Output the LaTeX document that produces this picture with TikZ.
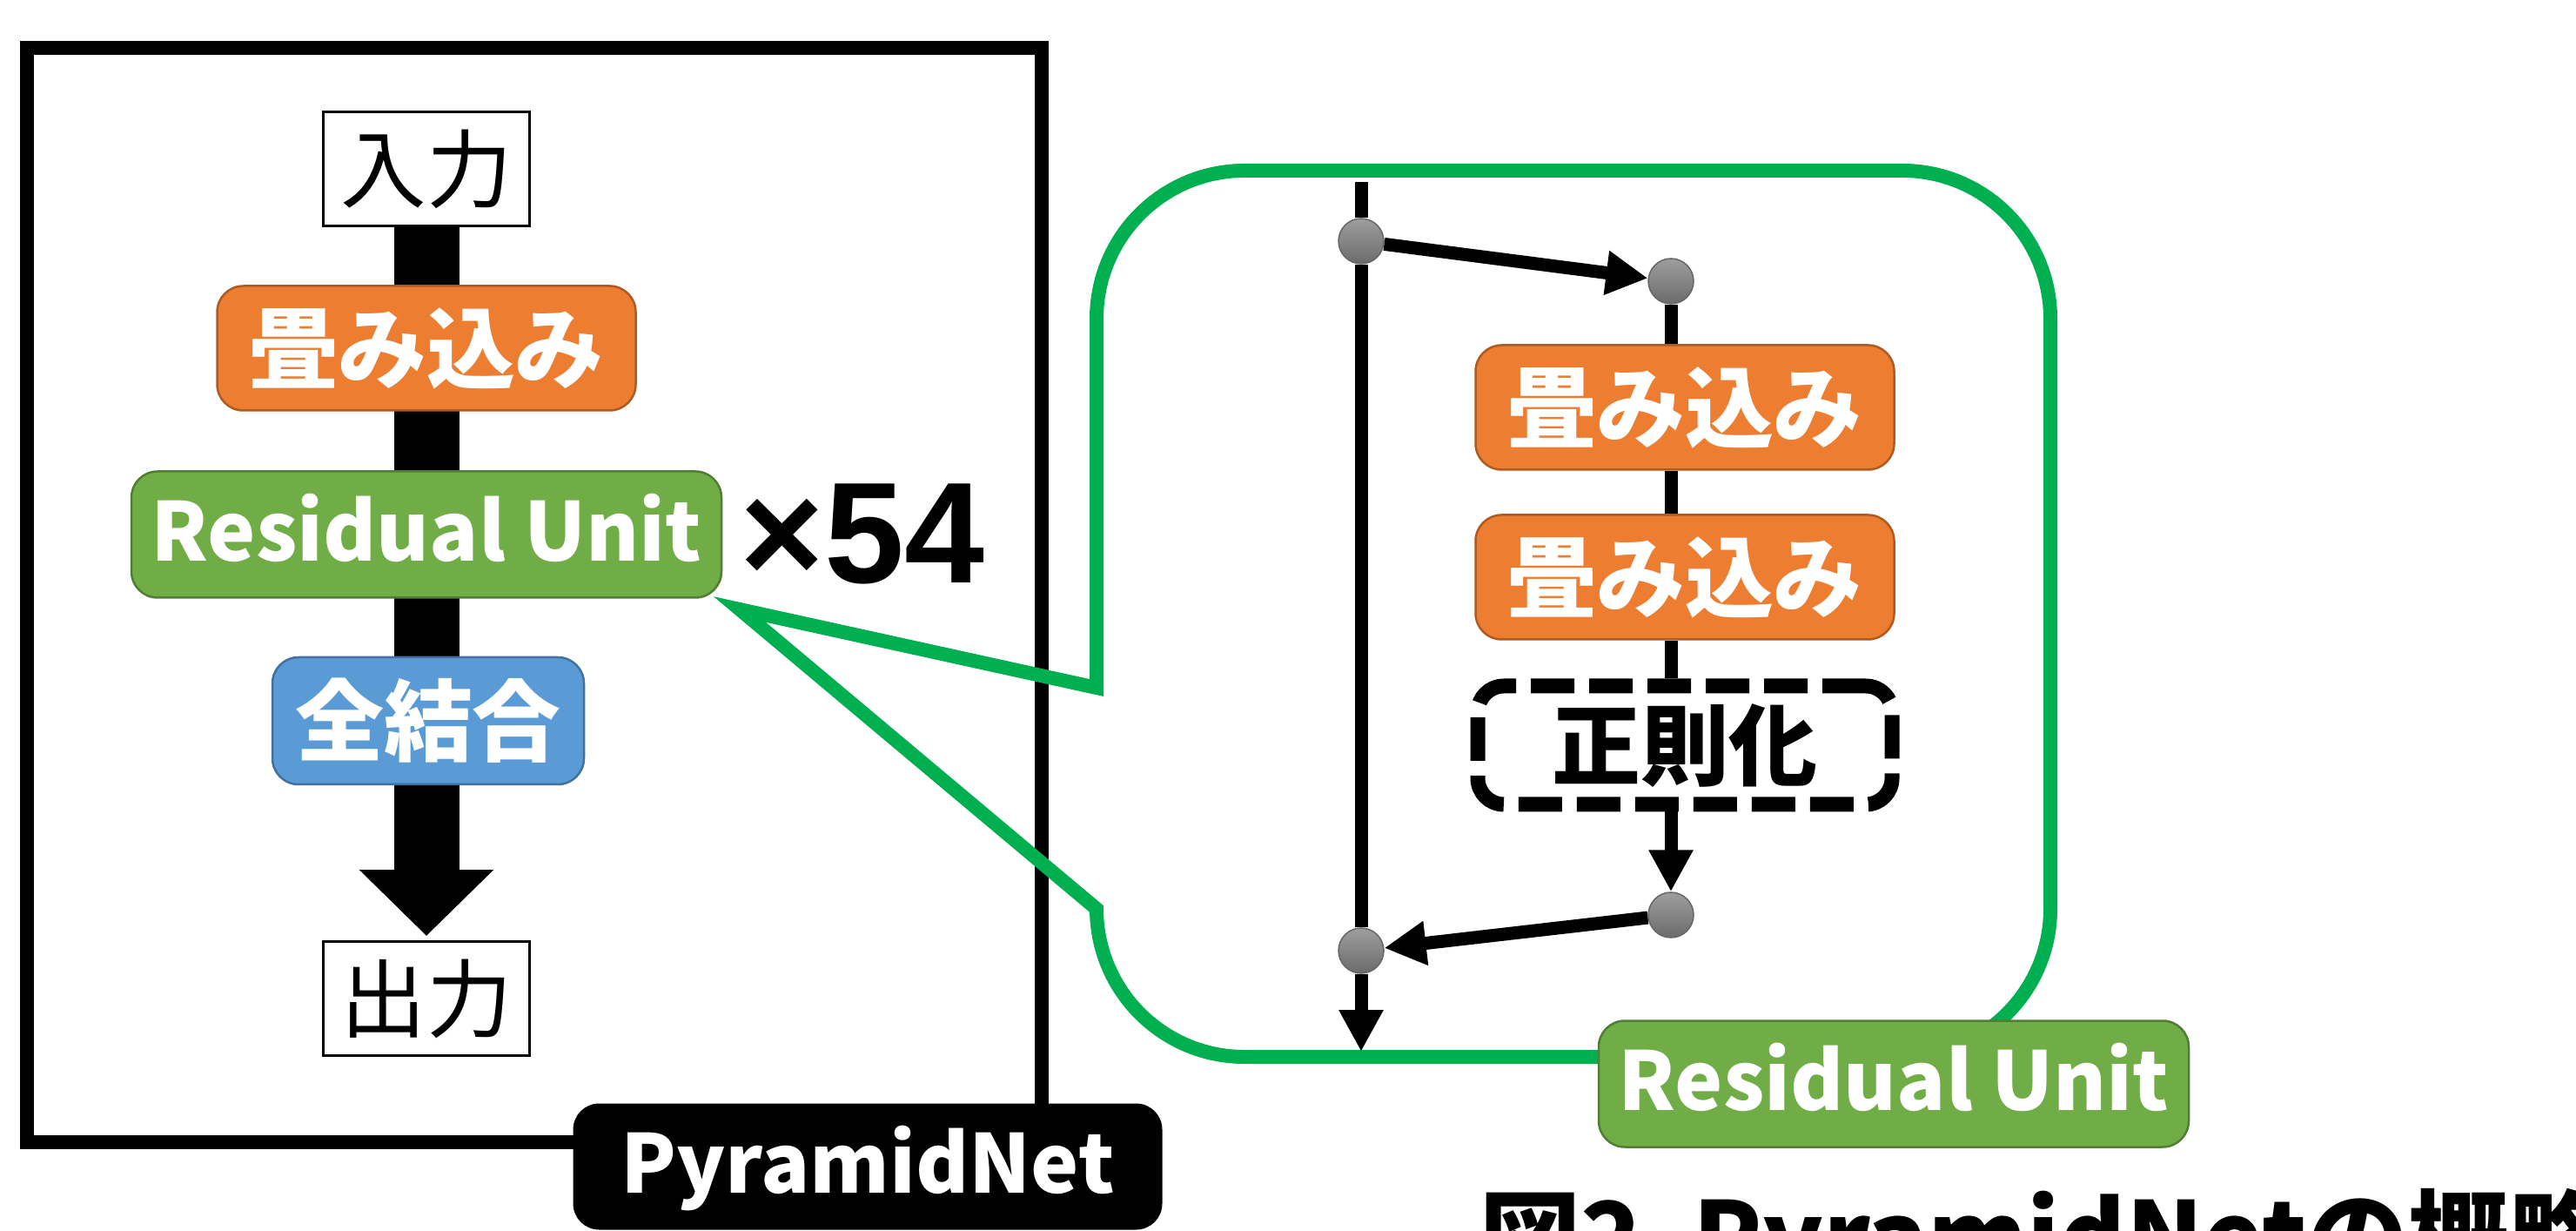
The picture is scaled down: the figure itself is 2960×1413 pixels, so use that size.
\documentclass[tikz,border=0pt]{standalone}
\usepackage{fontspec}
\usepackage{tikz}
\usetikzlibrary{arrows.meta,backgrounds}

\newfontfamily\jpfont{Noto Sans CJK JP}
\newfontfamily\numfont{Liberation Sans}

\definecolor{convorange}{HTML}{ED7D31}
\definecolor{convedge}{HTML}{AE5A21}
\definecolor{resgreen}{HTML}{70AD47}
\definecolor{resedge}{HTML}{507E32}
\definecolor{fcblue}{HTML}{5B9BD5}
\definecolor{fcedge}{HTML}{41719C}
\definecolor{callgreen}{HTML}{00B050}

\begin{document}
\begin{tikzpicture}[x=0.1mm, y=0.1mm,
    jp/.style={font=\jpfont\bfseries\fontsize{29pt}{29pt}\selectfont, text height=22.6pt, text depth=0.6pt},
    en/.style={font=\jpfont\bfseries\fontsize{26.5pt}{27pt}\selectfont, text height=17.5pt, text depth=0pt},
    unitbox/.style={rounded corners=3mm, inner sep=0pt, line width=0.25mm, text=white},
    iobox/.style={draw, fill=white, line width=0.3mm, inner sep=0pt, minimum width=23.7mm, minimum height=13.1mm,
        font=\jpfont\fontsize{28pt}{28pt}\selectfont, text height=21.8pt, text depth=0.6pt},
    convbox/.style={unitbox, jp, fill=convorange, draw=convedge, minimum width=48.1mm, minimum height=14.3mm},
    resbox/.style={unitbox, en, fill=resgreen, draw=resedge, minimum width=67.8mm, minimum height=14.5mm},
    fcbox/.style={unitbox, jp, fill=fcblue, draw=fcedge, minimum width=35.8mm, minimum height=14.6mm},
    netbox/.style={unitbox, en, fill=black, minimum width=67.7mm, minimum height=14.5mm},
    regbox/.style={jp, draw, fill=white, line width=1.7mm, dash pattern=on 5mm off 1.7mm, rounded corners=3mm,
        inner sep=0pt, minimum width=47.6mm, minimum height=13.6mm},
    joint/.style={circle, minimum size=5.2mm, inner sep=0pt, draw=black!60, line width=0.15mm,
        top color=black!38, bottom color=black!58},
    link/.style={line width=1.5mm},
    linkarrow/.style={link, -{Triangle[length=4.8mm, width=4.8mm]}}]

    \useasboundingbox (0,0) rectangle (2960,1413);
    \clip (0,0) rectangle (2960,1413);

    % PyramidNet side
    \draw[line width=1.6mm] (31,101) rectangle (1197,1358);

    \node[iobox] (in) at (490,1219) {入力};
    \node[convbox] (convL) at (490,1013) {畳み込み};
    \node[resbox] (resL) at (490,799) {Residual Unit};
    \node[fcbox] (fc) at (492,585) {全結合};
    \node[iobox] (out) at (490,266) {出力};
    \node[anchor=base west, inner sep=0pt, font=\numfont\bfseries\fontsize{47pt}{47pt}\selectfont] (reps) at (850,743) {×54};
    \node[netbox] (net) at (997,73) {PyramidNet};

    \begin{scope}[on background layer]
        \draw[line width=7.5mm, -{Triangle[length=7.6mm, width=15mm]}, shorten >=0.5mm] (in) -- (out);
    \end{scope}

    % callout
    \draw[callgreen, line width=1.6mm, line join=miter]
        (1260,623) -- (1260,1047) arc[start angle=180, end angle=90, radius=17mm]
        -- (2186,1217) arc[start angle=90, end angle=0, radius=17mm]
        -- (2356,369) arc[start angle=0, end angle=-90, radius=17mm]
        -- (1430,199) arc[start angle=-90, end angle=-180, radius=17mm]
        -- (850,713) -- cycle;

    % residual unit
    \node[joint] (n1) at (1564,1136) {};
    \node[joint] (n2) at (1920,1090) {};
    \node[convbox] (convR1) at (1936,945) {畳み込み};
    \node[convbox] (convR2) at (1936,750) {畳み込み};
    \node[regbox] (norm) at (1936,557) {正則化};
    \node[joint] (n3) at (1920,362) {};
    \node[joint] (n4) at (1564,321) {};
    \coordinate (skiptop) at (1564,1204);
    \coordinate (skipend) at (1564,205);

    \draw[link] (skiptop) -- (n1);
    \draw[link] (n1) -- (n4);
    \draw[linkarrow] (n4) -- (skipend);
    \draw[linkarrow] (n1) -- (n2);
    \draw[link] (n2) -- (n2 |- convR1.north);
    \draw[link] (convR1.south -| n2) -- (n2 |- convR2.north);
    \draw[link] (convR2.south -| n2) -- (n2 |- norm.north);
    \draw[linkarrow] (norm.south -| n2) -- (n3);
    \draw[linkarrow] (n3) -- (n4);

    \node[resbox] (resR) at (2176,168) {Residual Unit};

    \node[anchor=base west, inner sep=0pt, font=\jpfont\bfseries\fontsize{33pt}{33pt}\selectfont] (caption) at (1700,-51)
        {図2\enspace PyramidNetの概略};
\end{tikzpicture}
\end{document}
